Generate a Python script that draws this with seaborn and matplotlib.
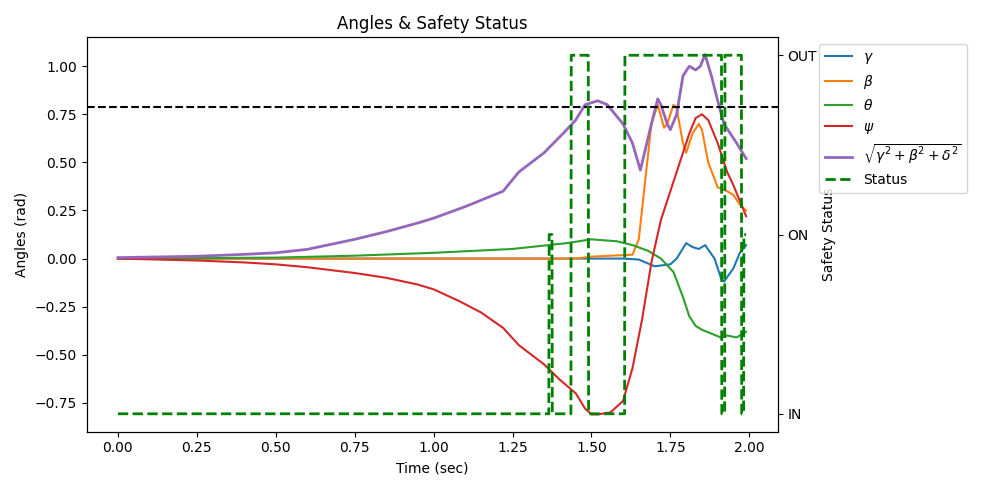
import matplotlib
matplotlib.use("Agg")
import matplotlib.pyplot as plt
import seaborn as sns
import numpy as np

plt.rcParams.update(matplotlib.rcParamsDefault)
plt.rcParams['font.family'] = ['DejaVu Sans']

t_gamma = [0, 0.5, 1.0, 1.6, 1.65, 1.7, 1.75, 1.77, 1.8, 1.82, 1.84, 1.86, 1.89, 1.91, 1.92, 1.95, 1.97, 1.99]
gamma = [0, 0, 0, 0, -0.005, -0.04, -0.03, 0.0, 0.08, 0.06, 0.05, 0.07, 0.0, -0.1, -0.12, -0.05, 0.03, 0.07]

t_beta = [0, 0.5, 1.0, 1.45, 1.5, 1.63, 1.65, 1.67, 1.69, 1.71, 1.73, 1.74, 1.76, 1.77, 1.79, 1.8, 1.82, 1.84, 1.85, 1.87, 1.9, 1.93, 1.95, 1.97, 1.99]
beta = [0, 0, 0, 0, 0.01, 0.02, 0.1, 0.4, 0.7, 0.8, 0.68, 0.7, 0.8, 0.78, 0.6, 0.55, 0.65, 0.7, 0.67, 0.5, 0.37, 0.35, 0.33, 0.28, 0.25]

t_theta = [0, 0.5, 0.75, 1.0, 1.25, 1.42, 1.5, 1.58, 1.63, 1.68, 1.72, 1.76, 1.79, 1.81, 1.83, 1.85, 1.88, 1.91, 1.93, 1.96, 1.99]
theta = [0, 0.005, 0.015, 0.03, 0.05, 0.08, 0.1, 0.09, 0.07, 0.04, 0.0, -0.07, -0.2, -0.3, -0.35, -0.37, -0.39, -0.41, -0.4, -0.41, -0.38]

t_psi = [0, 0.25, 0.4, 0.5, 0.6, 0.75, 0.85, 0.95, 1.0, 1.08, 1.15, 1.22, 1.27, 1.35, 1.4, 1.45, 1.48, 1.5, 1.52, 1.56, 1.6, 1.63, 1.66, 1.69, 1.72, 1.75, 1.78, 1.81, 1.83, 1.85, 1.87, 1.9, 1.93, 1.95, 1.97, 1.99]
psi = [0, -0.01, -0.02, -0.03, -0.045, -0.075, -0.1, -0.135, -0.16, -0.22, -0.28, -0.36, -0.45, -0.55, -0.63, -0.7, -0.78, -0.81, -0.81, -0.8, -0.74, -0.57, -0.32, -0.02, 0.2, 0.35, 0.5, 0.65, 0.73, 0.75, 0.72, 0.6, 0.45, 0.38, 0.3, 0.22]

t_mag = [0, 0.25, 0.4, 0.5, 0.6, 0.75, 0.85, 0.95, 1.0, 1.1, 1.22, 1.27, 1.35, 1.41, 1.45, 1.48, 1.52, 1.55, 1.6, 1.63, 1.655, 1.69, 1.71, 1.72, 1.74, 1.75, 1.77, 1.79, 1.81, 1.83, 1.845, 1.86, 1.88, 1.9, 1.92, 1.94, 1.96, 1.99]
mag = [0.005, 0.012, 0.022, 0.03, 0.048, 0.1, 0.14, 0.185, 0.21, 0.27, 0.35, 0.45, 0.55, 0.65, 0.72, 0.8, 0.82, 0.8, 0.7, 0.6, 0.46, 0.7, 0.83, 0.8, 0.7, 0.67, 0.75, 0.95, 1.0, 0.98, 1.0, 1.06, 0.95, 0.82, 0.7, 0.65, 0.6, 0.52]

t_status = [0, 1.365, 1.366, 1.375, 1.376, 1.435, 1.436, 1.49, 1.491, 1.605, 1.606, 1.912, 1.913, 1.922, 1.923, 1.975, 1.976, 1.982, 1.983, 1.99]
status = [0, 0, 1, 1, 0, 0, 2, 2, 0, 0, 2, 2, 0, 0, 2, 2, 0, 0, 1, 1]
status_labels = ["IN", "ON", "OUT"]
threshold = np.pi / 4

fig, ax = plt.subplots(figsize=(9.86, 4.9), dpi=100)
sns.lineplot(x=t_gamma, y=gamma, ax=ax, label=r"$\gamma$", color="C0")
sns.lineplot(x=t_beta, y=beta, ax=ax, label=r"$\beta$", color="C1")
sns.lineplot(x=t_theta, y=theta, ax=ax, label=r"$\theta$", color="C2")
sns.lineplot(x=t_psi, y=psi, ax=ax, label=r"$\psi$", color="C3")
sns.lineplot(x=t_mag, y=mag, ax=ax, label=r"$\sqrt{\gamma^2+\beta^2+\delta^2}$", color="C4", linewidth=2)
ax.axhline(threshold, color="black", linestyle="--")
ax.set_ylim(-0.9, 1.15)
ax.set_xlabel("Time (sec)")
ax.set_ylabel("Angles (rad)")
ax.set_title("Angles & Safety Status")

ax2 = ax.twinx()
sns.lineplot(x=t_status, y=status, ax=ax2, color="green", linestyle="--", linewidth=2, label="Status")
ax2.set_ylim(-0.1, 2.1)
ax2.set_yticks([0, 1, 2])
ax2.set_yticklabels(status_labels)
ax2.set_ylabel("Safety Status")

h1, l1 = ax.get_legend_handles_labels()
h2, l2 = ax2.get_legend_handles_labels()
ax.get_legend().remove()
ax2.get_legend().remove()
ax2.legend(h1 + h2, l1 + l2, loc="upper left", bbox_to_anchor=(1.05, 1.0))
fig.tight_layout()
fig.savefig("out.png")
